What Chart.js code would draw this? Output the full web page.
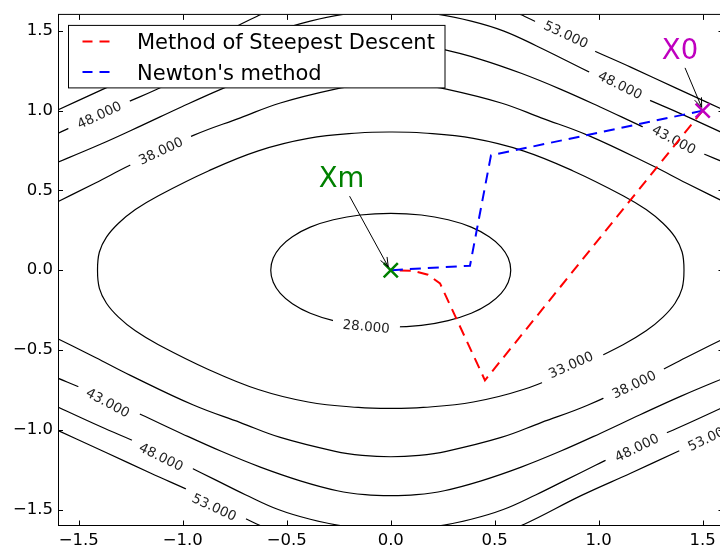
<!DOCTYPE html>
<html>
<head>
<meta charset="utf-8">
<script src="https://cdn.jsdelivr.net/npm/chart.js@4.4.1/dist/chart.umd.min.js"></script>
<style>
html, body { margin: 0; padding: 0; background: #fff; overflow: hidden; }
#wrap { width: 740px; height: 549px; }
</style>
</head>
<body>
<div id="wrap"><canvas id="chart" width="740" height="549"></canvas></div>
<script>
// tick values on both axes
var xTicks = [-1.5, -1.0, -0.5, 0.0, 0.5, 1.0, 1.5];
var yTicks = [-1.5, -1.0, -0.5, 0.0, 0.5, 1.0, 1.5];

// contour lines, [x, y] points
var level28 = [[-0.147,-0.346],[-0.276,-0.316],[-0.387,-0.270],[-0.473,-0.210],[-0.531,-0.145],[-0.565,-0.076],[-0.577,0],
    [-0.565,0.076],[-0.531,0.145],[-0.473,0.210],[-0.387,0.270],[-0.276,0.316],[-0.147,0.346],[0,0.356],
    [0.147,0.346],[0.276,0.316],[0.387,0.270],[0.473,0.210],[0.531,0.145],[0.565,0.076],[0.577,0],
    [0.565,-0.076],[0.531,-0.145],[0.473,-0.210],[0.387,-0.270],[0.276,-0.316],[0.147,-0.346],[0,-0.356],[-0.147,-0.346]];

var level33 = [[0.877,-0.622],[0.637,-0.748],[0.397,-0.826],[0.156,-0.860],[0,-0.866],[-0.156,-0.860],[-0.397,-0.826],
    [-0.637,-0.748],[-0.877,-0.622],[-1.117,-0.467],[-1.228,-0.380],[-1.309,-0.294],[-1.367,-0.207],[-1.401,-0.114],
    [-1.410,0],[-1.401,0.114],[-1.367,0.207],[-1.309,0.294],[-1.228,0.380],[-1.117,0.467],[-0.877,0.622],
    [-0.637,0.748],[-0.397,0.826],[-0.156,0.860],[0,0.866],[0.156,0.860],[0.397,0.826],[0.637,0.748],
    [0.877,0.622],[1.117,0.467],[1.228,0.380],[1.309,0.294],[1.367,0.207],[1.401,0.114],[1.410,0],
    [1.401,-0.114],[1.367,-0.207],[1.309,-0.294],[1.228,-0.380],[1.117,-0.467],[0.877,-0.622]];

var level38Top = [[-1.65,0.398],[-1.42,0.547],[-1.252,0.659],[-0.949,0.845],[-0.723,0.955],[-0.531,1.048],[-0.267,1.135],
    [-0.137,1.160],[0,1.169],[0.137,1.160],[0.267,1.135],[0.531,1.048],[0.723,0.955],[0.949,0.845],[1.252,0.659],[1.42,0.547],[1.65,0.398]];
var level38Bottom = [[-1.65,-0.398],[-1.42,-0.547],[-1.252,-0.659],[-0.949,-0.845],[-0.723,-0.955],[-0.531,-1.048],[-0.267,-1.135],
    [-0.137,-1.160],[0,-1.169],[0.137,-1.160],[0.267,-1.135],[0.531,-1.048],[0.723,-0.955],[0.949,-0.845],[1.252,-0.659],[1.42,-0.547],[1.65,-0.398]];

var level43Top = [[-1.65,0.650],[-1.396,0.789],[-1.199,0.906],[-1.007,1.023],[-0.815,1.135],[-0.627,1.234],[-0.435,1.320],
    [-0.257,1.382],[-0.123,1.407],[0,1.413],[0.123,1.407],[0.257,1.382],[0.435,1.320],[0.627,1.234],[0.815,1.135],
    [1.007,1.023],[1.199,0.906],[1.396,0.789],[1.65,0.650]];
var level43Bottom = [[-1.65,-0.650],[-1.396,-0.789],[-1.199,-0.906],[-1.007,-1.023],[-0.815,-1.135],[-0.627,-1.234],[-0.435,-1.320],
    [-0.257,-1.382],[-0.123,-1.407],[0,-1.413],[0.123,-1.407],[0.257,-1.382],[0.435,-1.320],[0.627,-1.234],[0.815,-1.135],
    [1.007,-1.023],[1.199,-0.906],[1.396,-0.789],[1.65,-0.650]];

var level48Top = [[-1.65,0.828],[-1.396,0.980],[-1.252,1.061],[-1.132,1.129],[-0.987,1.221],[-0.843,1.314],[-0.699,1.407],
    [-0.541,1.500],[-0.387,1.561],[-0.219,1.605],[0,1.630],[0.219,1.605],[0.387,1.561],[0.541,1.500],[0.699,1.407],
    [0.843,1.314],[0.987,1.221],[1.132,1.129],[1.252,1.061],[1.396,0.980],[1.65,0.828]];
var level48Bottom = [[-1.65,-0.828],[-1.396,-0.980],[-1.252,-1.061],[-1.132,-1.129],[-0.987,-1.221],[-0.843,-1.314],[-0.699,-1.407],
    [-0.541,-1.500],[-0.387,-1.561],[-0.219,-1.605],[0,-1.630],[0.219,-1.605],[0.387,-1.561],[0.541,-1.500],[0.699,-1.407],
    [0.843,-1.314],[0.987,-1.221],[1.132,-1.129],[1.252,-1.061],[1.396,-0.980],[1.65,-0.828]];

var level53Top = [[-1.65,0.975],[-1.372,1.141],[-1.156,1.271],[-0.915,1.413],[-0.642,1.592],[-0.435,1.698],[-0.219,1.753],
    [0,1.772],[0.219,1.753],[0.435,1.698],[0.642,1.592],[0.915,1.413],[1.156,1.271],[1.372,1.141],[1.65,0.975]];
var level53Bottom = [[-1.65,-0.975],[-1.372,-1.141],[-1.156,-1.271],[-0.915,-1.413],[-0.642,-1.592],[-0.435,-1.698],[-0.219,-1.753],
    [0,-1.772],[0.219,-1.753],[0.435,-1.698],[0.642,-1.592],[0.915,-1.413],[1.156,-1.271],[1.372,-1.141],[1.65,-0.975]];

// the two descent paths
var steepestX = [1.5, 0.453, 0.237, 0.179, 0.102, 0.0];
var steepestY = [1.0, -0.690, -0.083, -0.028, -0.003, 0.0];
var newtonX = [1.5, 0.482, 0.381, 0.0];
var newtonY = [1.0, 0.720, 0.028, 0.0];

// start point and minimum
var startPoint = [1.5, 1.0];
var minPoint = [0.0, 0.0];

// inline contour labels (text, where, rotation in degrees)
var contourLabels = [
    { text: '48.000', x: -1.402, y: 0.973, angle: -25 },
    { text: '38.000', x: -1.106, y: 0.748, angle: -25 },
    { text: '53.000', x: 0.843, y: 1.478, angle: 25 },
    { text: '48.000', x: 1.103, y: 1.160, angle: 26 },
    { text: '43.000', x: 1.362, y: 0.819, angle: 28 },
    { text: '43.000', x: -1.360, y: -0.830, angle: 28 },
    { text: '48.000', x: -1.104, y: -1.170, angle: 26 },
    { text: '53.000', x: -0.848, y: -1.485, angle: 25 },
    { text: '28.000', x: -0.118, y: -0.352, angle: 5 },
    { text: '33.000', x: 0.866, y: -0.592, angle: -24 },
    { text: '38.000', x: 1.170, y: -0.716, angle: -26 },
    { text: '48.000', x: 1.183, y: -1.112, angle: -26 },
    { text: '53.000', x: 1.535, y: -1.046, angle: -25 }
];

// text annotations with arrows
var notes = [
    { text: 'Xm', color: '#008000', tx: -0.237, ty: 0.520, from: [-0.198, 0.464], to: [-0.012, 0.021] },
    { text: 'X0', color: '#bf00bf', tx: 1.391, ty: 1.322, from: [1.415, 1.268], to: [1.495, 1.021] }
];

var FONT = "'DejaVu Sans', 'Liberation Sans', sans-serif";

var toPoints = function (pairs) {
    return pairs.map(function (p) { return { x: p[0], y: p[1] }; });
};
var zipPoints = function (xs, ys) {
    return xs.map(function (v, i) { return { x: v, y: ys[i] }; });
};

var contour = function (pairs) {
    return {
        kind: 'contour',
        data: toPoints(pairs),
        showLine: true,
        borderColor: '#000',
        borderWidth: 1.2,
        pointRadius: 0,
        tension: 0.4,
        order: 3
    };
};

var datasets = [
    { label: 'Xm', kind: 'marker', data: toPoints([minPoint]), pointStyle: 'crossRot', pointRadius: 10,
      borderColor: '#008000', backgroundColor: '#008000', pointBorderWidth: 2.5, order: 0 },
    { label: 'X0', kind: 'marker', data: toPoints([startPoint]), pointStyle: 'crossRot', pointRadius: 10,
      borderColor: '#bf00bf', backgroundColor: '#bf00bf', pointBorderWidth: 2.5, order: 0 },
    { label: "Newton's method", kind: 'path', data: zipPoints(newtonX, newtonY), showLine: true,
      borderColor: '#0000ff', borderWidth: 2, borderDash: [11, 7], pointRadius: 0, tension: 0, order: 1 },
    { label: 'Method of Steepest Descent', kind: 'path', data: zipPoints(steepestX, steepestY), showLine: true,
      borderColor: '#ff0000', borderWidth: 2, borderDash: [11, 7], pointRadius: 0, tension: 0, order: 2 }
];
[level28, level33, level38Top, level38Bottom, level43Top, level43Bottom,
 level48Top, level48Bottom, level53Top, level53Bottom].forEach(function (lv) {
    datasets.push(contour(lv));
});

var drawContourLabels = function (chart) {
    var ctx = chart.ctx, xs = chart.scales.x, ys = chart.scales.y;
    ctx.save();
    ctx.font = '13.5px ' + FONT;
    ctx.textAlign = 'center';
    ctx.textBaseline = 'middle';
    contourLabels.forEach(function (lb) {
        var w = ctx.measureText(lb.text).width;
        ctx.save();
        ctx.translate(xs.getPixelForValue(lb.x), ys.getPixelForValue(lb.y));
        ctx.rotate(lb.angle * Math.PI / 180);
        ctx.fillStyle = '#fff';
        ctx.fillRect(-w / 2 - 10, -8, w + 20, 16);
        ctx.fillStyle = '#222';
        ctx.fillText(lb.text, 0, 1);
        ctx.restore();
    });
    ctx.restore();
};

var drawArrow = function (ctx, x1, y1, x2, y2) {
    var a = Math.atan2(y2 - y1, x2 - x1), len = 10, sp = 0.38;
    ctx.beginPath();
    ctx.moveTo(x1, y1);
    ctx.lineTo(x2, y2);
    ctx.moveTo(x2 - len * Math.cos(a - sp), y2 - len * Math.sin(a - sp));
    ctx.lineTo(x2, y2);
    ctx.lineTo(x2 - len * Math.cos(a + sp), y2 - len * Math.sin(a + sp));
    ctx.stroke();
};

var drawFrame = function (chart) {
    var ctx = chart.ctx, a = chart.chartArea, xs = chart.scales.x, ys = chart.scales.y;
    ctx.save();
    ctx.strokeStyle = '#000';
    ctx.lineWidth = 1;
    ctx.strokeRect(a.left + 0.5, a.top - 0.5, a.right - a.left, a.bottom - a.top + 0.5);
    ctx.beginPath();
    xTicks.forEach(function (v) {
        var px = Math.round(xs.getPixelForValue(v)) + 0.5;
        ctx.moveTo(px, a.bottom); ctx.lineTo(px, a.bottom - 5);
        ctx.moveTo(px, a.top); ctx.lineTo(px, a.top + 5);
    });
    yTicks.forEach(function (v) {
        var py = Math.round(ys.getPixelForValue(v)) + 0.5;
        ctx.moveTo(a.left, py); ctx.lineTo(a.left + 5, py);
        ctx.moveTo(a.right, py); ctx.lineTo(a.right - 5, py);
    });
    ctx.stroke();
    ctx.restore();
};

var drawNotes = function (chart) {
    var ctx = chart.ctx, xs = chart.scales.x, ys = chart.scales.y;
    ctx.save();
    notes.forEach(function (n) {
        ctx.strokeStyle = '#000';
        ctx.lineWidth = 1;
        drawArrow(ctx, xs.getPixelForValue(n.from[0]), ys.getPixelForValue(n.from[1]),
            xs.getPixelForValue(n.to[0]), ys.getPixelForValue(n.to[1]));
        ctx.font = '27.5px ' + FONT;
        ctx.fillStyle = n.color;
        ctx.textAlign = 'center';
        ctx.textBaseline = 'alphabetic';
        ctx.fillText(n.text, xs.getPixelForValue(n.tx), ys.getPixelForValue(n.ty));
    });
    ctx.restore();
};

var drawLegend = function (chart) {
    var ctx = chart.ctx, a = chart.chartArea;
    var left = a.left + 10.5, top = a.top + 10.5, w = 376.5, h = 62.5;
    var entries = [datasets[3], datasets[2]];
    ctx.save();
    ctx.fillStyle = '#fff';
    ctx.fillRect(left, top, w, h);
    ctx.strokeStyle = '#000';
    ctx.lineWidth = 1;
    ctx.strokeRect(left, top, w, h);
    ctx.font = '21px ' + FONT;
    ctx.textBaseline = 'alphabetic';
    ctx.textAlign = 'left';
    entries.forEach(function (ds, i) {
        var cy = top + 16 + i * 30.7;
        ctx.strokeStyle = ds.borderColor;
        ctx.lineWidth = 2;
        ctx.setLineDash([10, 7]);
        ctx.beginPath();
        ctx.moveTo(left + 14, cy);
        ctx.lineTo(left + 41, cy);
        ctx.stroke();
        ctx.setLineDash([]);
        ctx.fillStyle = '#000';
        ctx.fillText(ds.label, left + 68.5, cy + 8);
    });
    ctx.restore();
};

var overlay = {
    id: 'overlay',
    beforeDatasetsDraw: function (chart) { chart.$labelsDone = false; },
    beforeDatasetDraw: function (chart, args) {
        var ds = chart.data.datasets[args.index];
        if (ds.kind !== 'contour' && !chart.$labelsDone) {
            drawContourLabels(chart);
            chart.$labelsDone = true;
        }
    },
    afterDatasetsDraw: function (chart) {
        if (!chart.$labelsDone) {
            drawContourLabels(chart);
            chart.$labelsDone = true;
        }
        drawFrame(chart);
        drawNotes(chart);
        drawLegend(chart);
    }
};

var tickLabel = function (v) {
    return Number(v).toFixed(1).replace('-', '\u2212');
};

new Chart(document.getElementById('chart'), {
    type: 'scatter',
    data: { datasets: datasets },
    options: {
        responsive: false,
        devicePixelRatio: 1,
        animation: false,
        events: [],
        layout: { padding: { top: 8, right: 16.5, bottom: 0, left: 0 } },
        plugins: { legend: { display: false }, tooltip: { enabled: false } },
        scales: {
            x: {
                type: 'linear', min: -1.6, max: 1.6,
                afterBuildTicks: function (s) { s.ticks = xTicks.map(function (v) { return { value: v }; }); },
                afterFit: function (s) { s.height = 23.5; },
                grid: { display: false, drawTicks: false },
                border: { display: false },
                ticks: { padding: 5, color: '#000', font: { family: FONT, size: 16.5 }, maxRotation: 0,
                    autoSkip: false, callback: tickLabel }
            },
            y: {
                type: 'linear', min: -1.6, max: 1.6,
                afterBuildTicks: function (s) { s.ticks = yTicks.map(function (v) { return { value: v }; }); },
                afterFit: function (s) { s.width = 58; },
                grid: { display: false, drawTicks: false },
                border: { display: false },
                ticks: { padding: 5, color: '#000', font: { family: FONT, size: 16.5 },
                    autoSkip: false, callback: tickLabel }
            }
        }
    },
    plugins: [overlay]
});
</script>
</body>
</html>
